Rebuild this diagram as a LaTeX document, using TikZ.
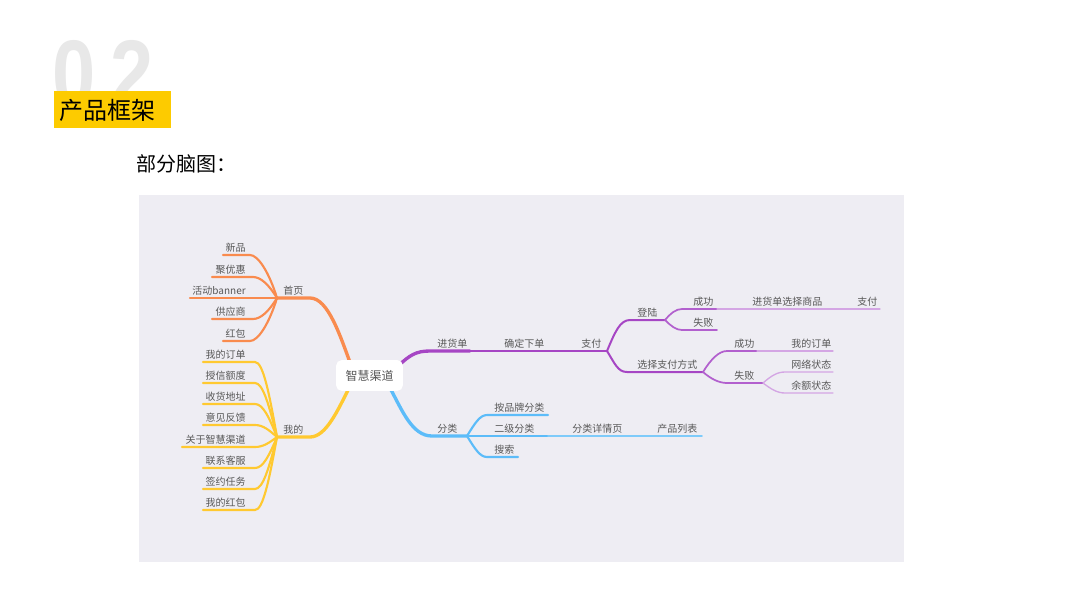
\documentclass[tikz,border=0pt]{standalone}
\usepackage{fontspec}
\newfontfamily\cjk{Noto Sans CJK SC}
\newfontfamily\bignum{Liberation Sans}
\usetikzlibrary{calc}
\definecolor{orangeC}{HTML}{F98B4E}
\definecolor{yellowC}{HTML}{FFC930}
\definecolor{purpleC}{HTML}{A646C4}
\definecolor{purpleB}{HTML}{B260CE}
\definecolor{purpleL}{HTML}{D4A6E4}
\definecolor{blueC}{HTML}{5CBCF9}
\definecolor{blueL}{HTML}{7ECBFA}
\definecolor{txtgray}{HTML}{585858}
\definecolor{panelC}{HTML}{EEEDF3}
\definecolor{titleY}{HTML}{FDCB00}
\definecolor{numgray}{HTML}{E8E8E8}
\begin{document}
\begin{tikzpicture}[x=0.75pt,y=-0.75pt,
  txt/.style={font=\cjk\fontsize{7.5}{9}\selectfont, text=txtgray, inner sep=0pt},
  tl/.style={txt, anchor=base east},
  tr/.style={txt, anchor=base west},
  ln/.style={line cap=round, line join=round},
  oroot/.style={ln, draw=orangeC, line width=2.5pt},
  ochild/.style={ln, draw=orangeC, line width=1.6pt},
  yroot/.style={ln, draw=yellowC, line width=2.5pt},
  ychild/.style={ln, draw=yellowC, line width=1.6pt},
  proot/.style={ln, draw=purpleC, line width=2.5pt},
  pmid/.style={ln, draw=purpleC, line width=1.6pt},
  plev/.style={ln, draw=purpleC, line width=1.5pt},
  psub/.style={ln, draw=purpleB, line width=1.3pt},
  plight/.style={ln, draw=purpleL, line width=0.9pt},
  broot/.style={ln, draw=blueC, line width=2.5pt},
  bchild/.style={ln, draw=blueC, line width=1.6pt},
  blight/.style={ln, draw=blueL, line width=1.3pt}
]
\useasboundingbox (0,0) rectangle (1067,600);
\fill[white] (0,0) rectangle (1067,600);

% header
\begin{scope}
  \clip (0,0) rectangle (1067,91);
  \node[anchor=north west, inner sep=0pt, text=numgray, font=\bignum\bfseries\fontsize{71}{71}\selectfont] (bignum) at (52,40) {\scalebox{0.82}[1]{0\hspace{13.5pt}2}};
\end{scope}
\fill[titleY] (54,91) rectangle (171,128);
\node[anchor=west, inner sep=0pt, font=\cjk\fontsize{18}{20}\selectfont, text=black] (title) at (59,110) {产品框架};
\node[anchor=west, inner sep=0pt, font=\cjk\fontsize{15}{17}\selectfont, text=black] (subtitle) at (136,164) {部分脑图：};

% panel
\fill[panelC] (139,195) rectangle (904,562);

% ---------- orange: 首页 ----------
\coordinate (oR) at (352,368);
\coordinate (oA) at (310,298);
\coordinate (oC) at (277,298);
\draw[oroot] (oR) .. controls (340,335) and (328,298) .. (oA) -- (oC);
\coordinate (o1s) at (223,255); \coordinate (o1e) at (250,255);
\coordinate (o2s) at (212,277); \coordinate (o2e) at (253,277);
\coordinate (o3s) at (190,298);
\coordinate (o4s) at (212,319); \coordinate (o4e) at (253,319);
\coordinate (o5s) at (223,341); \coordinate (o5e) at (250,341);
\draw[ochild] (o1s) -- (o1e) .. controls (258,255) and (269,272) .. (oC);
\draw[ochild] (o2s) -- (o2e) .. controls (261,277) and (269,285) .. (oC);
\draw[ochild] (o3s) -- (oC);
\draw[ochild] (o4s) -- (o4e) .. controls (261,319) and (269,311) .. (oC);
\draw[ochild] (o5s) -- (o5e) .. controls (258,341) and (269,324) .. (oC);

% ---------- yellow: 我的 ----------
\coordinate (yR) at (350,386);
\coordinate (yA) at (310,437);
\coordinate (yC) at (277,437);
\draw[yroot] (yR) .. controls (338,410) and (326,437) .. (yA) -- (yC);
\foreach \yy/\xs/\cy in {362/203/392, 383/203/405, 404/203/417, 425/203/430, 447/182/443, 468/203/456, 489/203/468, 510/203/481}{
  \draw[ychild] (\xs,\yy) -- (255,\yy) .. controls (263,\yy) and (269,\cy) .. (yC);
}

% ---------- purple: 进货单 ----------
\coordinate (pR) at (398,366);
\coordinate (pA) at (430,351);
\coordinate (pB) at (470,351);
\coordinate (pC) at (548,351);
\coordinate (pP) at (607,351);
\draw[proot] (pR) .. controls (410,355) and (416,351) .. (pA) -- (pB);
\draw[pmid] (pB) -- (pC) -- (pP);
% 登陆
\coordinate (dS) at (630,320); \coordinate (dC) at (665,320);
\draw[plev] (pP) .. controls (615,332) and (620,320) .. (dS) -- (dC);
% 选择支付方式
\coordinate (sS) at (627,372); \coordinate (sC) at (703,372);
\draw[plev] (pP) .. controls (615,364) and (618,372) .. (sS) -- (sC);
% 登陆 children
\coordinate (d1s) at (682,309); \coordinate (d1e) at (717,309); \coordinate (d1f) at (880,309);
\coordinate (d2s) at (682,330); \coordinate (d2e) at (717,330);
\draw[psub] (dC) .. controls (671,313) and (676,309) .. (d1s) -- (d1e);
\draw[plight] (d1e) -- (d1f);
\draw[psub] (dC) .. controls (671,326) and (676,330) .. (d2s) -- (d2e);
% 选择支付方式 children
\coordinate (s1s) at (727,351); \coordinate (s1e) at (757,351); \coordinate (s1f) at (833,351);
\coordinate (s2s) at (727,383); \coordinate (sF) at (763,383);
\draw[psub] (sC) .. controls (711,359) and (719,351) .. (s1s) -- (s1e);
\draw[plight] (s1e) -- (s1f);
\draw[psub] (sC) .. controls (711,379) and (719,383) .. (s2s) -- (sF);
\coordinate (f1s) at (785,372); \coordinate (f1e) at (833,372);
\coordinate (f2s) at (785,393); \coordinate (f2e) at (833,393);
\draw[plight, line width=1pt] (sF) .. controls (771,376) and (777,372) .. (f1s) -- (f1e);
\draw[plight, line width=1pt] (sF) .. controls (771,389) and (777,393) .. (f2s) -- (f2e);

% ---------- blue: 分类 ----------
\coordinate (bR) at (390,388);
\coordinate (bA) at (432,436);
\coordinate (bC) at (467,436);
\draw[broot] (bR) .. controls (402,410) and (412,436) .. (bA) -- (bC);
\coordinate (b1s) at (487,415); \coordinate (b1e) at (548,415);
\coordinate (b2e) at (548,436); \coordinate (b2f) at (625,436); \coordinate (b2g) at (702,436);
\coordinate (b3s) at (487,457); \coordinate (b3e) at (518,457);
\draw[bchild] (bC) .. controls (475,423) and (480,415) .. (b1s) -- (b1e);
\draw[bchild] (bC) -- (b2e);
\draw[blight] (b2e) -- (b2f) -- (b2g);
\draw[bchild] (bC) .. controls (475,449) and (480,457) .. (b3s) -- (b3e);

% ---------- root ----------
\node[fill=white, rounded corners=4pt, minimum width=50pt, minimum height=23pt, inner sep=0pt,
      font=\cjk\fontsize{9}{11}\selectfont, text=txtgray] (root) at (369.5,375.5) {智慧渠道};

% ---------- labels ----------
\node[tr] (shouye) at (283,294) {首页};
\node[tl] (o1) at (246,251) {新品};
\node[tl] (o2) at (246,273) {聚优惠};
\node[tl] (o3) at (246,294) {活动banner};
\node[tl] (o4) at (246,315) {供应商};
\node[tl] (o5) at (246,337) {红包};

\node[tr] (wode) at (283,433) {我的};
\node[tl] (y1) at (246,358) {我的订单};
\node[tl] (y2) at (246,379) {授信额度};
\node[tl] (y3) at (246,400) {收货地址};
\node[tl] (y4) at (246,421) {意见反馈};
\node[tl] (y5) at (246,443) {关于智慧渠道};
\node[tl] (y6) at (246,464) {联系客服};
\node[tl] (y7) at (246,485) {签约任务};
\node[tl] (y8) at (246,506) {我的红包};

\node[tr] (jhd) at (437,347) {进货单};
\node[tr] (qdxd) at (504,347) {确定下单};
\node[tr] (zf) at (581,347) {支付};
\node[tr] (dl) at (637,316) {登陆};
\node[tr] (xz) at (637,368) {选择支付方式};
\node[tr] (cg1) at (693,305) {成功};
\node[tr] (sb1) at (693,326) {失败};
\node[tr] (jx) at (752,305) {进货单选择商品};
\node[tr] (zf2) at (857,305) {支付};
\node[tr] (cg2) at (734,347) {成功};
\node[tr] (sb2) at (734,379) {失败};
\node[tr] (wddd) at (791,347) {我的订单};
\node[tr] (wl) at (791,368) {网络状态};
\node[tr] (ye) at (791,389) {余额状态};

\node[tr] (fl) at (437,432) {分类};
\node[tr] (ppfl) at (494,411) {按品牌分类};
\node[tr] (ejfl) at (494,432) {二级分类};
\node[tr] (flxq) at (572,432) {分类详情页};
\node[tr] (cplb) at (657,432) {产品列表};
\node[tr] (ss) at (494,453) {搜索};
\end{tikzpicture}
\end{document}
